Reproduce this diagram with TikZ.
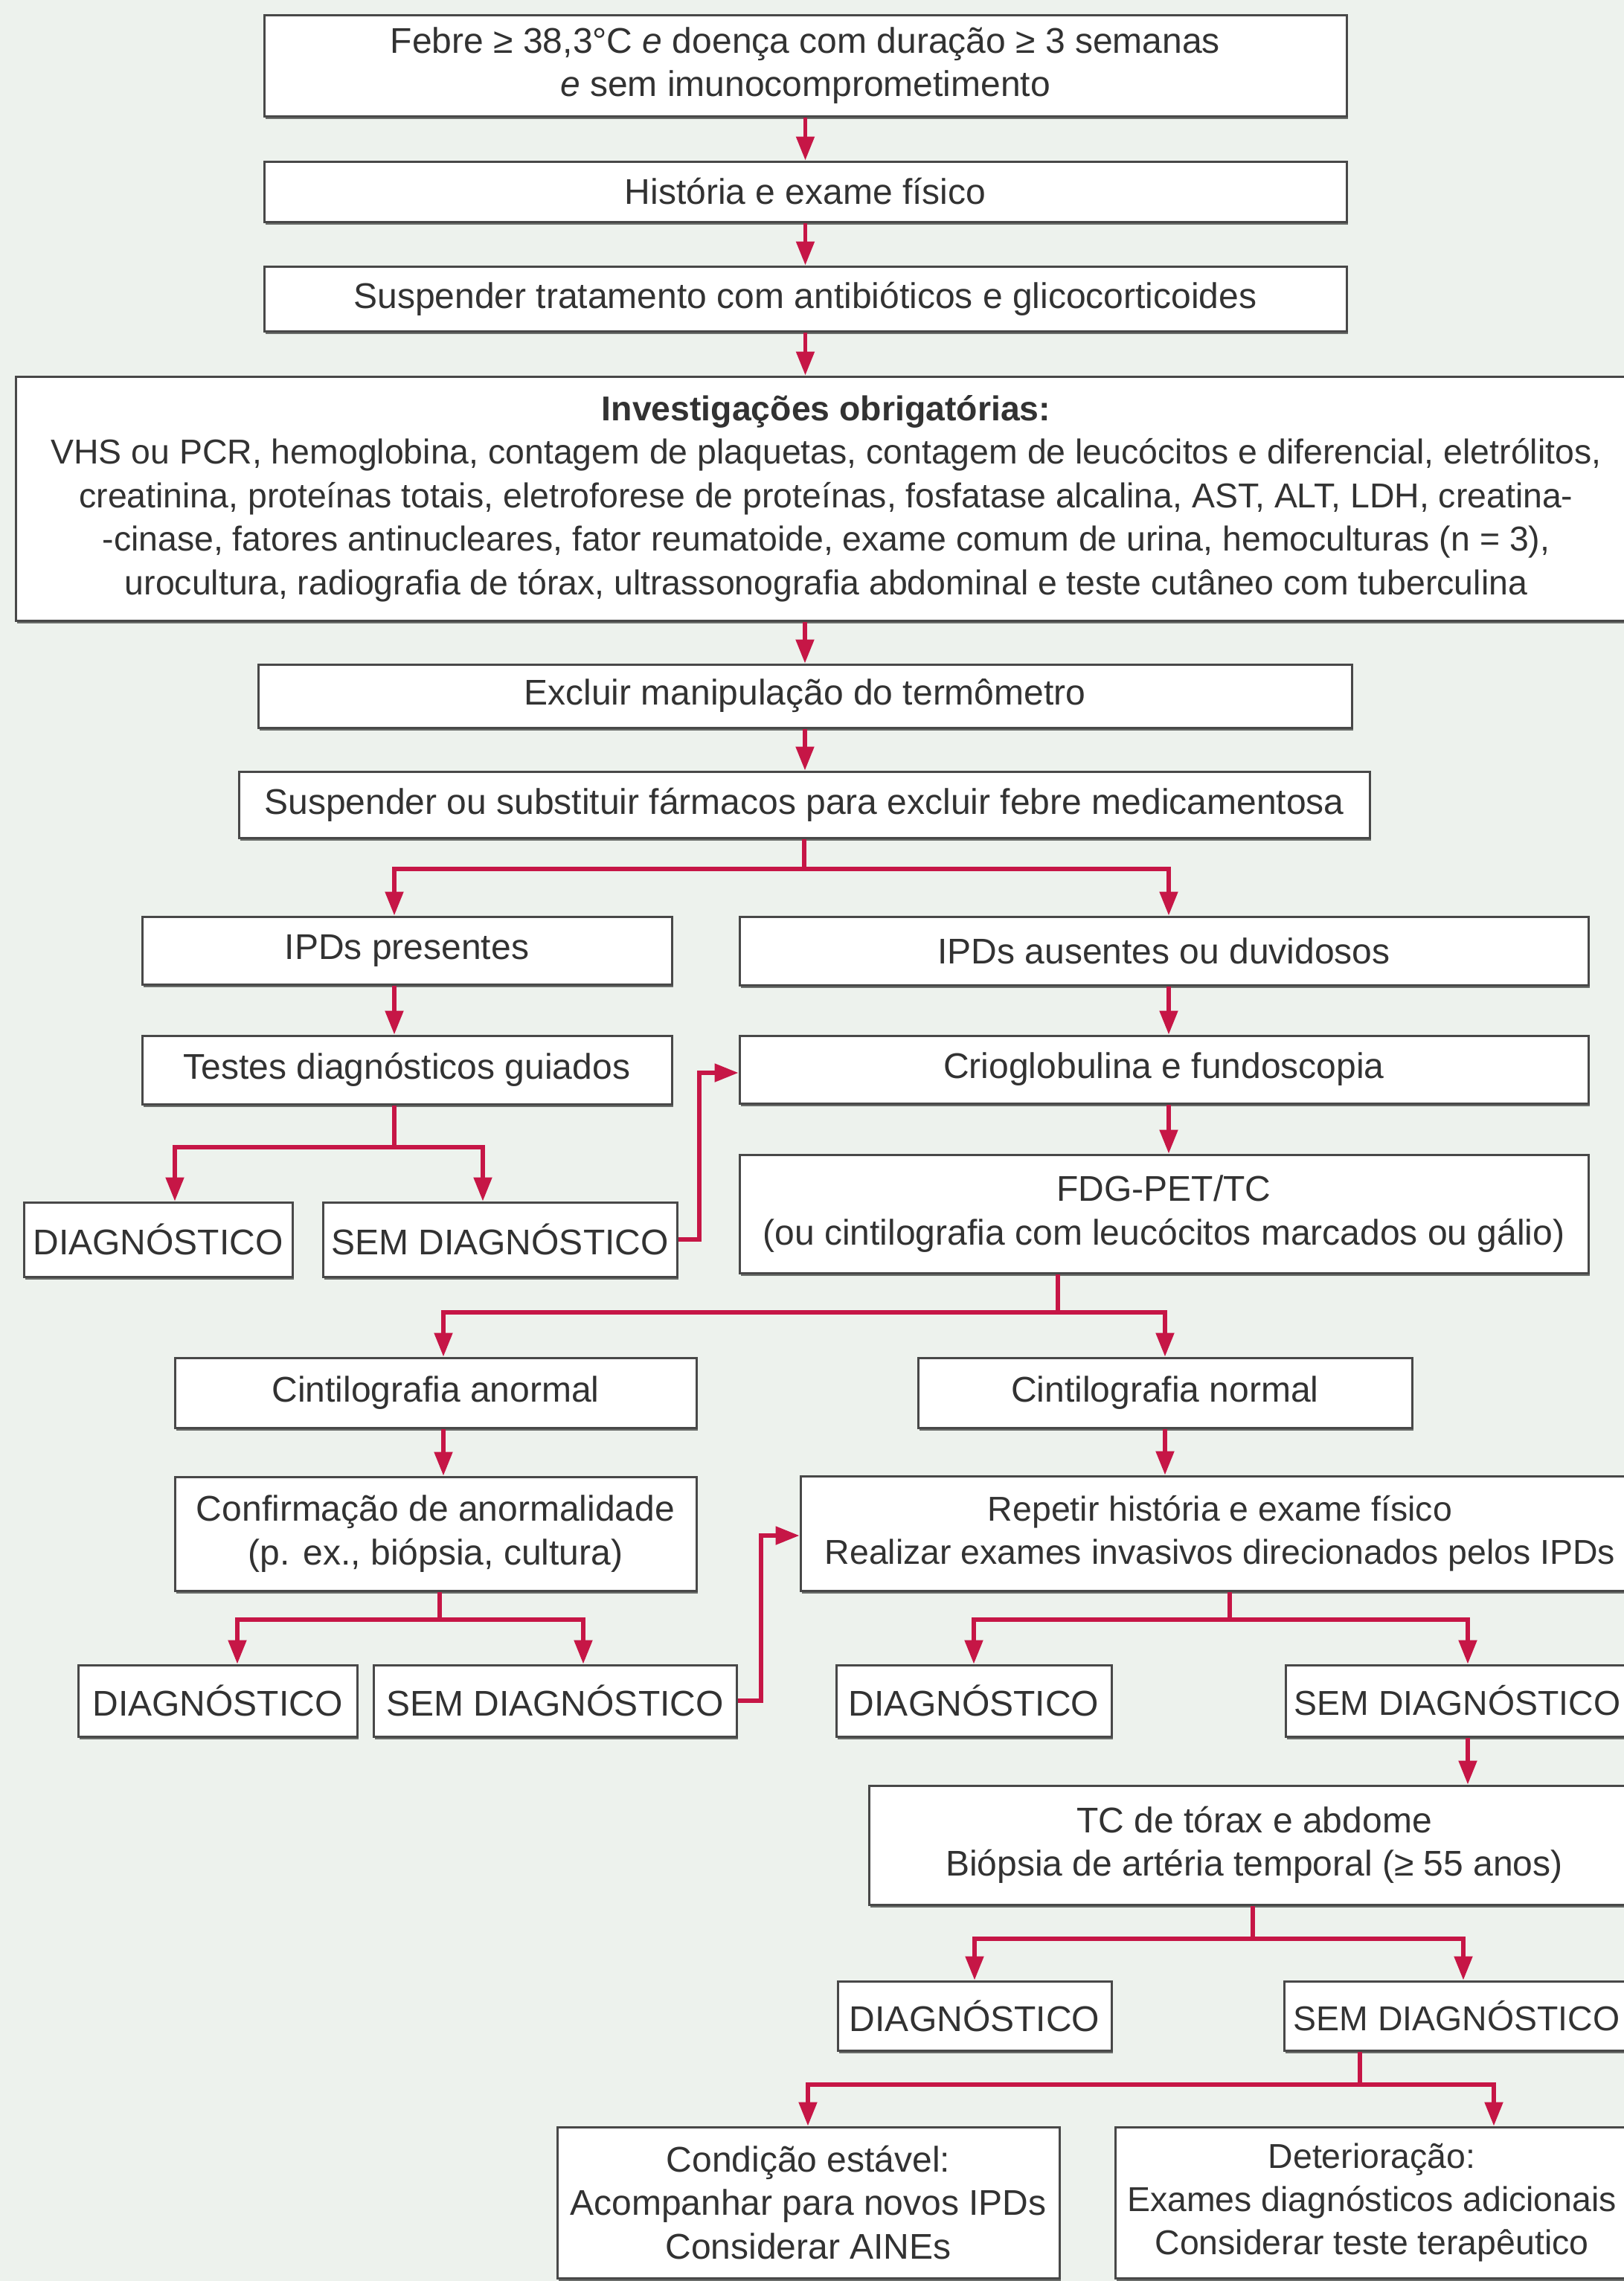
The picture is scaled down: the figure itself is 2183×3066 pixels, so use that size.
\documentclass[tikz,border=0pt]{standalone}
\usepackage{fontspec}
\setmainfont{Liberation Sans}
\usetikzlibrary{arrows.meta,shadows}
\definecolor{bg}{RGB}{237,242,237}
\definecolor{arrowred}{RGB}{198,22,70}
\definecolor{boxline}{RGB}{72,72,72}
\definecolor{txt}{RGB}{50,50,50}
\newcommand\mkbox[7][]{\node[box, #1, minimum width={(#5-#3)*0.25pt}, minimum height={(#6-#4)*0.25pt}] (#2) at ({(#3+#5)/2},{(#4+#6)/2}) {#7};}
\begin{document}
\begin{tikzpicture}[x=0.25pt,y=-0.25pt,
  box/.style={draw=boxline, line width=0.75pt, fill=white, text=txt, align=center, inner sep=0pt,
    font=\fontsize{12}{14.6}\selectfont,
    drop shadow={shadow xshift=0.5pt, shadow yshift=-0.9pt, opacity=0.55, fill=black}},
  edgetext/.style={font=\fontsize{11.6}{14.6}\selectfont},
  conn/.style={draw=arrowred, line width=1.3pt},
  arr/.style={conn, -{Triangle[length=8pt,width=6pt]}}]
\useasboundingbox (0,0) rectangle (2183,3066);
\fill[bg] (0,0) rectangle (2183,3066);
\clip (0,0) rectangle (2183,3066);

\mkbox{n1}{355}{20}{1810}{156}{Febre ≥ 38,3°C \emph{e} doença com duração ≥ 3 semanas\\\emph{e} sem imunocomprometimento}
\mkbox{n2}{355}{217}{1810}{298}{História e exame físico}
\mkbox{n3}{355}{358}{1810}{445}{Suspender tratamento com antibióticos e glicocorticoides}
\mkbox[edgetext]{n4}{21}{506}{2200}{834}{\textbf{Investigações obrigatórias:}\\VHS ou PCR, hemoglobina, contagem de plaquetas, contagem de leucócitos e diferencial, eletrólitos,\\creatinina, proteínas totais, eletroforese de proteínas, fosfatase alcalina, AST, ALT, LDH, creatina-\\-cinase, fatores antinucleares, fator reumatoide, exame comum de urina, hemoculturas (n = 3),\\urocultura, radiografia de tórax, ultrassonografia abdominal e teste cutâneo com tuberculina}
\mkbox{n5}{347}{893}{1817}{978}{Excluir manipulação do termômetro}
\mkbox{n6}{321}{1037}{1841}{1126}{Suspender ou substituir fármacos para excluir febre medicamentosa}
\mkbox{n7}{191}{1232}{903}{1323}{IPDs presentes}
\mkbox{n8}{994}{1232}{2135}{1324}{IPDs ausentes ou duvidosos}
\mkbox{n9}{191}{1392}{903}{1484}{Testes diagnósticos guiados}
\mkbox{n10}{994}{1392}{2135}{1483}{Crioglobulina e fundoscopia}
\mkbox{n11}{32}{1616}{393}{1716}{DIAGNÓSTICO}
\mkbox{n12}{434}{1616}{910}{1716}{SEM DIAGNÓSTICO}
\mkbox{n13}{994}{1552}{2135}{1711}{FDG-PET/TC\\(ou cintilografia com leucócitos marcados ou gálio)}
\mkbox{n14}{235}{1825}{936}{1919}{Cintilografia anormal}
\mkbox{n15}{1234}{1825}{1898}{1919}{Cintilografia normal}
\mkbox{n16}{235}{1985}{936}{2138}{Confirmação de anormalidade\\(p. ex., biópsia, cultura)}
\mkbox[edgetext]{n17}{1076}{1984}{2204}{2138}{Repetir história e exame físico\\Realizar exames invasivos direcionados pelos IPDs}
\mkbox{n18}{105}{2238}{480}{2334}{DIAGNÓSTICO}
\mkbox{n19}{502}{2238}{990}{2334}{SEM DIAGNÓSTICO}
\mkbox{n20}{1124}{2238}{1494}{2334}{DIAGNÓSTICO}
\mkbox[edgetext]{n21}{1728}{2238}{2190}{2334}{SEM DIAGNÓSTICO}
\mkbox{n22}{1168}{2400}{2204}{2560}{TC de tórax e abdome\\Biópsia de artéria temporal (≥ 55 anos)}
\mkbox{n23}{1126}{2663}{1494}{2756}{DIAGNÓSTICO}
\mkbox[edgetext]{n24}{1726}{2663}{2190}{2756}{SEM DIAGNÓSTICO}
\mkbox{n25}{749}{2859}{1424}{3062}{Condição estável:\\Acompanhar para novos IPDs\\Considerar AINEs}
\mkbox[edgetext]{n26}{1499}{2859}{2189}{3062}{Deterioração:\\Exames diagnósticos adicionais\\Considerar teste terapêutico}

% straight chain
\draw[arr] (n1.south) -- (n1.south |- n2.north);
\draw[arr] (n2.south) -- (n2.south |- n3.north);
\draw[arr] (n3.south) -- (n3.south |- n4.north);
\draw[arr] (n5.north |- n4.south) -- (n5.north);
\draw[arr] (n5.south) -- (n5.south |- n6.north);

% branch after n6
\coordinate (b6l) at (530,1168);
\coordinate (b6r) at (1571,1168);
\draw[conn] (n6.south) -- (n6.south |- b6l);
\draw[arr] (b6l -| n6.south) -- (b6l) -- (b6l |- n7.north);
\draw[arr] (b6l -| n6.south) -- (b6r) -- (b6r |- n8.north);
\draw[arr] (b6l |- n7.south) -- (b6l |- n9.north);
\draw[arr] (b6r |- n8.south) -- (b6r |- n10.north);
\draw[arr] (b6r |- n10.south) -- (b6r |- n13.north);

% branch after n9
\coordinate (b9l) at (235,1542);
\coordinate (b9r) at (649,1542);
\draw[conn] (b6l |- n9.south) -- (b6l |- b9l);
\draw[arr] (b6l |- b9l) -- (b9l) -- (b9l |- n11.north);
\draw[arr] (b6l |- b9l) -- (b9r) -- (b9r |- n12.north);
\coordinate (e12) at (940,1442);
\draw[arr] (n12.east) -| (e12) -- (e12 -| n10.west);

% branch after n13
\coordinate (b13s) at (1422,1764);
\coordinate (b13l) at (596,1764);
\coordinate (b13r) at (1566,1764);
\draw[conn] (b13s |- n13.south) -- (b13s);
\draw[arr] (b13s) -- (b13l) -- (b13l |- n14.north);
\draw[arr] (b13s) -- (b13r) -- (b13r |- n15.north);
\draw[arr] (b13l |- n14.south) -- (b13l |- n16.north);
\draw[arr] (b13r |- n15.south) -- (b13r |- n17.north);

% branch after n16
\coordinate (b16s) at (591,2177);
\coordinate (b16l) at (319,2177);
\coordinate (b16r) at (784,2177);
\draw[conn] (b16s |- n16.south) -- (b16s);
\draw[arr] (b16s) -- (b16l) -- (b16l |- n18.north);
\draw[arr] (b16s) -- (b16r) -- (b16r |- n19.north);
\coordinate (e19) at (1023,2064);
\draw[arr] (n19.east) -| (e19) -- (e19 -| n17.west);

% branch after n17
\coordinate (b17s) at (1653,2177);
\coordinate (b17l) at (1309,2177);
\coordinate (b17r) at (1973,2177);
\draw[conn] (b17s |- n17.south) -- (b17s);
\draw[arr] (b17s) -- (b17l) -- (b17l |- n20.north);
\draw[arr] (b17s) -- (b17r) -- (b17r |- n21.north);
\draw[arr] (b17r |- n21.south) -- (b17r |- n22.north);

% branch after n22
\coordinate (b22s) at (1684,2606);
\coordinate (b22l) at (1310,2606);
\coordinate (b22r) at (1967,2606);
\draw[conn] (b22s |- n22.south) -- (b22s);
\draw[arr] (b22s) -- (b22l) -- (b22l |- n23.north);
\draw[arr] (b22s) -- (b22r) -- (b22r |- n24.north);

% branch after n24
\coordinate (b24s) at (1828,2802);
\coordinate (b24l) at (1086,2802);
\coordinate (b24r) at (2008,2802);
\draw[conn] (b24s |- n24.south) -- (b24s);
\draw[arr] (b24s) -- (b24l) -- (b24l |- n25.north);
\draw[arr] (b24s) -- (b24r) -- (b24r |- n26.north);
\end{tikzpicture}
\end{document}
